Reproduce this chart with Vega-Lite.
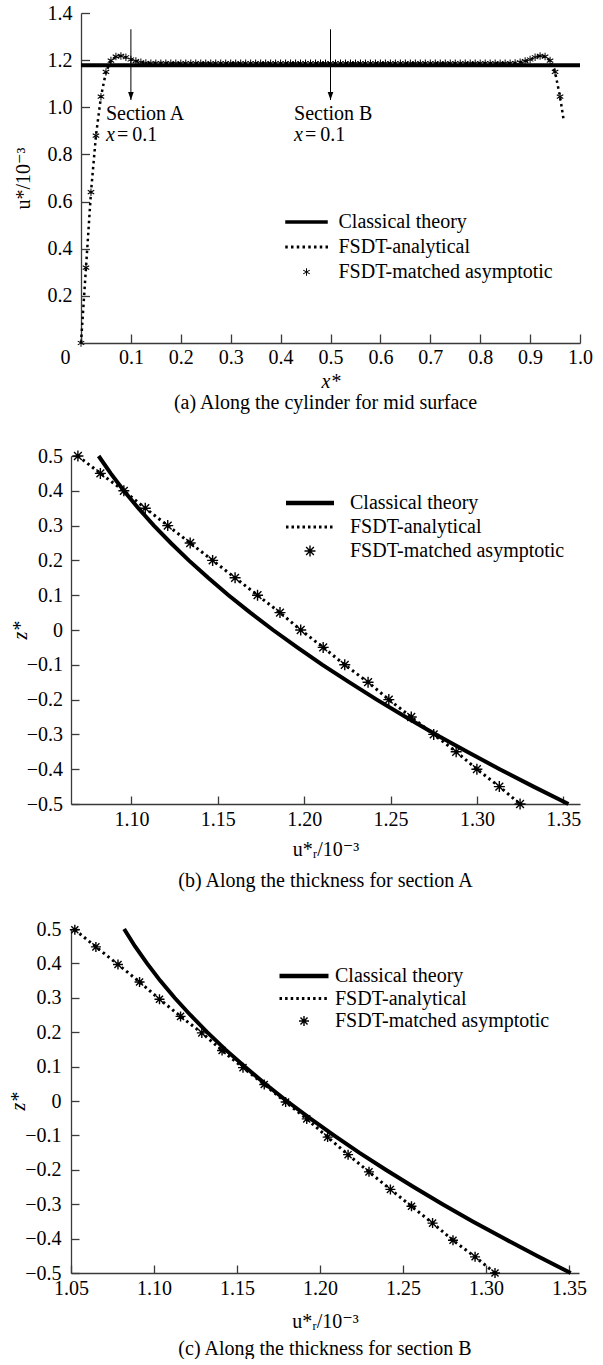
{
"$schema": "https://vega.github.io/schema/vega-lite/v6.json",
"background": "white",
"padding": {"left": 8, "top": 3, "right": 0, "bottom": 0},
"config": {
  "font": "Liberation Serif, Tinos, Times New Roman, DejaVu Serif, serif",
  "view": {"stroke": null},
  "axis": {"grid": false, "labelOverlap": false, "labelFlush": false, "labelFont": "Liberation Serif, Tinos, Times New Roman, DejaVu Serif, serif", "labelFontSize": 20, "labelColor": "black", "titleFont": "Liberation Serif, Tinos, Times New Roman, DejaVu Serif, serif", "titleFontSize": 20, "titleFontWeight": "normal", "titleColor": "black", "domainColor": "#3a3a3a", "domainWidth": 1.3, "tickColor": "#3a3a3a", "tickWidth": 1.3},
  "legend": {"labelFont": "Liberation Serif, Tinos, Times New Roman, DejaVu Serif, serif"},
  "title": {"font": "Liberation Serif, Tinos, Times New Roman, DejaVu Serif, serif", "fontSize": 20, "fontWeight": "normal", "color": "black", "orient": "bottom", "anchor": "middle"},
  "text": {"font": "Liberation Serif, Tinos, Times New Roman, DejaVu Serif, serif", "fontSize": 20, "color": "black"}
},
"datasets": {
  "a_classical": [{"x": 0, "u": 1.178}, {"x": 1, "u": 1.178}],
  "a_analytical": [
    {"x":0,"u":0},{"x":0.01,"u":0.32},{"x":0.02,"u":0.64},{"x":0.03,"u":0.88},{"x":0.04,"u":1.045},{"x":0.05,"u":1.15},{"x":0.06,"u":1.198},{"x":0.07,"u":1.215},{"x":0.08,"u":1.218},{"x":0.09,"u":1.212},{"x":0.1,"u":1.203},{"x":0.11,"u":1.196},{"x":0.12,"u":1.191},{"x":0.13,"u":1.188},{"x":0.2,"u":1.187},{"x":0.5,"u":1.187},{"x":0.8,"u":1.187},{"x":0.86,"u":1.187},{"x":0.87,"u":1.188},{"x":0.88,"u":1.191},{"x":0.89,"u":1.196},{"x":0.9,"u":1.203},{"x":0.91,"u":1.212},{"x":0.92,"u":1.218},{"x":0.93,"u":1.215},{"x":0.94,"u":1.198},{"x":0.95,"u":1.15},{"x":0.96,"u":1.045},{"x":0.967,"u":0.95}
  ],
  "a_matched": [
    {"x":0,"u":0,"series":"FSDT-matched asymptotic"},{"x":0.01,"u":0.32,"series":"FSDT-matched asymptotic"},{"x":0.02,"u":0.64,"series":"FSDT-matched asymptotic"},{"x":0.03,"u":0.88,"series":"FSDT-matched asymptotic"},{"x":0.04,"u":1.045,"series":"FSDT-matched asymptotic"},{"x":0.05,"u":1.15,"series":"FSDT-matched asymptotic"},{"x":0.06,"u":1.198,"series":"FSDT-matched asymptotic"},{"x":0.07,"u":1.215,"series":"FSDT-matched asymptotic"},{"x":0.08,"u":1.218,"series":"FSDT-matched asymptotic"},{"x":0.09,"u":1.212,"series":"FSDT-matched asymptotic"},{"x":0.1,"u":1.203,"series":"FSDT-matched asymptotic"},{"x":0.11,"u":1.196,"series":"FSDT-matched asymptotic"},{"x":0.12,"u":1.191,"series":"FSDT-matched asymptotic"},{"x":0.13,"u":1.188,"series":"FSDT-matched asymptotic"},
    {"x":0.14,"u":1.187,"series":"FSDT-matched asymptotic"},{"x":0.15,"u":1.187,"series":"FSDT-matched asymptotic"},{"x":0.16,"u":1.187,"series":"FSDT-matched asymptotic"},{"x":0.17,"u":1.187,"series":"FSDT-matched asymptotic"},{"x":0.18,"u":1.187,"series":"FSDT-matched asymptotic"},{"x":0.19,"u":1.187,"series":"FSDT-matched asymptotic"},{"x":0.2,"u":1.187,"series":"FSDT-matched asymptotic"},{"x":0.21,"u":1.187,"series":"FSDT-matched asymptotic"},{"x":0.22,"u":1.187,"series":"FSDT-matched asymptotic"},{"x":0.23,"u":1.187,"series":"FSDT-matched asymptotic"},{"x":0.24,"u":1.187,"series":"FSDT-matched asymptotic"},{"x":0.25,"u":1.187,"series":"FSDT-matched asymptotic"},{"x":0.26,"u":1.187,"series":"FSDT-matched asymptotic"},{"x":0.27,"u":1.187,"series":"FSDT-matched asymptotic"},{"x":0.28,"u":1.187,"series":"FSDT-matched asymptotic"},{"x":0.29,"u":1.187,"series":"FSDT-matched asymptotic"},{"x":0.3,"u":1.187,"series":"FSDT-matched asymptotic"},{"x":0.31,"u":1.187,"series":"FSDT-matched asymptotic"},{"x":0.32,"u":1.187,"series":"FSDT-matched asymptotic"},{"x":0.33,"u":1.187,"series":"FSDT-matched asymptotic"},{"x":0.34,"u":1.187,"series":"FSDT-matched asymptotic"},{"x":0.35,"u":1.187,"series":"FSDT-matched asymptotic"},{"x":0.36,"u":1.187,"series":"FSDT-matched asymptotic"},{"x":0.37,"u":1.187,"series":"FSDT-matched asymptotic"},{"x":0.38,"u":1.187,"series":"FSDT-matched asymptotic"},{"x":0.39,"u":1.187,"series":"FSDT-matched asymptotic"},{"x":0.4,"u":1.187,"series":"FSDT-matched asymptotic"},{"x":0.41,"u":1.187,"series":"FSDT-matched asymptotic"},{"x":0.42,"u":1.187,"series":"FSDT-matched asymptotic"},{"x":0.43,"u":1.187,"series":"FSDT-matched asymptotic"},{"x":0.44,"u":1.187,"series":"FSDT-matched asymptotic"},{"x":0.45,"u":1.187,"series":"FSDT-matched asymptotic"},{"x":0.46,"u":1.187,"series":"FSDT-matched asymptotic"},{"x":0.47,"u":1.187,"series":"FSDT-matched asymptotic"},{"x":0.48,"u":1.187,"series":"FSDT-matched asymptotic"},{"x":0.49,"u":1.187,"series":"FSDT-matched asymptotic"},{"x":0.5,"u":1.187,"series":"FSDT-matched asymptotic"},{"x":0.51,"u":1.187,"series":"FSDT-matched asymptotic"},{"x":0.52,"u":1.187,"series":"FSDT-matched asymptotic"},{"x":0.53,"u":1.187,"series":"FSDT-matched asymptotic"},{"x":0.54,"u":1.187,"series":"FSDT-matched asymptotic"},{"x":0.55,"u":1.187,"series":"FSDT-matched asymptotic"},{"x":0.56,"u":1.187,"series":"FSDT-matched asymptotic"},{"x":0.57,"u":1.187,"series":"FSDT-matched asymptotic"},{"x":0.58,"u":1.187,"series":"FSDT-matched asymptotic"},{"x":0.59,"u":1.187,"series":"FSDT-matched asymptotic"},{"x":0.6,"u":1.187,"series":"FSDT-matched asymptotic"},{"x":0.61,"u":1.187,"series":"FSDT-matched asymptotic"},{"x":0.62,"u":1.187,"series":"FSDT-matched asymptotic"},{"x":0.63,"u":1.187,"series":"FSDT-matched asymptotic"},{"x":0.64,"u":1.187,"series":"FSDT-matched asymptotic"},{"x":0.65,"u":1.187,"series":"FSDT-matched asymptotic"},{"x":0.66,"u":1.187,"series":"FSDT-matched asymptotic"},{"x":0.67,"u":1.187,"series":"FSDT-matched asymptotic"},{"x":0.68,"u":1.187,"series":"FSDT-matched asymptotic"},{"x":0.69,"u":1.187,"series":"FSDT-matched asymptotic"},{"x":0.7,"u":1.187,"series":"FSDT-matched asymptotic"},{"x":0.71,"u":1.187,"series":"FSDT-matched asymptotic"},{"x":0.72,"u":1.187,"series":"FSDT-matched asymptotic"},{"x":0.73,"u":1.187,"series":"FSDT-matched asymptotic"},{"x":0.74,"u":1.187,"series":"FSDT-matched asymptotic"},{"x":0.75,"u":1.187,"series":"FSDT-matched asymptotic"},{"x":0.76,"u":1.187,"series":"FSDT-matched asymptotic"},{"x":0.77,"u":1.187,"series":"FSDT-matched asymptotic"},{"x":0.78,"u":1.187,"series":"FSDT-matched asymptotic"},{"x":0.79,"u":1.187,"series":"FSDT-matched asymptotic"},{"x":0.8,"u":1.187,"series":"FSDT-matched asymptotic"},{"x":0.81,"u":1.187,"series":"FSDT-matched asymptotic"},{"x":0.82,"u":1.187,"series":"FSDT-matched asymptotic"},{"x":0.83,"u":1.187,"series":"FSDT-matched asymptotic"},{"x":0.84,"u":1.187,"series":"FSDT-matched asymptotic"},{"x":0.85,"u":1.187,"series":"FSDT-matched asymptotic"},{"x":0.86,"u":1.187,"series":"FSDT-matched asymptotic"},
    {"x":0.87,"u":1.188,"series":"FSDT-matched asymptotic"},{"x":0.88,"u":1.191,"series":"FSDT-matched asymptotic"},{"x":0.89,"u":1.196,"series":"FSDT-matched asymptotic"},{"x":0.9,"u":1.203,"series":"FSDT-matched asymptotic"},{"x":0.91,"u":1.212,"series":"FSDT-matched asymptotic"},{"x":0.92,"u":1.218,"series":"FSDT-matched asymptotic"},{"x":0.93,"u":1.215,"series":"FSDT-matched asymptotic"},{"x":0.94,"u":1.198,"series":"FSDT-matched asymptotic"},{"x":0.95,"u":1.15,"series":"FSDT-matched asymptotic"},{"x":0.96,"u":1.045,"series":"FSDT-matched asymptotic"}
  ],
  "a_arrows": [{"x": 0.1, "top": 1.331, "tip": 1.031}, {"x": 0.5, "top": 1.331, "tip": 1.031}],
  "a_labels": [{"x": 0.05, "y": 0.9716, "label": "Section A"}, {"x": 0.427, "y": 0.9716, "label": "Section B"}],
  "a_xeq": [{"x": 0.05, "y": 0.8825}, {"x": 0.427, "y": 0.8825}],
  "b_classical": [
    {"z":0.5,"u":1.081},{"z":0.45,"u":1.088},{"z":0.4,"u":1.0956},{"z":0.35,"u":1.104},{"z":0.3,"u":1.113},{"z":0.25,"u":1.1228},{"z":0.2,"u":1.1332},{"z":0.15,"u":1.1444},{"z":0.1,"u":1.1562},{"z":0.05,"u":1.1688},{"z":0,"u":1.182},{"z":-0.05,"u":1.196},{"z":-0.1,"u":1.2106},{"z":-0.15,"u":1.226},{"z":-0.2,"u":1.242},{"z":-0.25,"u":1.2588},{"z":-0.3,"u":1.2762},{"z":-0.35,"u":1.2944},{"z":-0.4,"u":1.3132},{"z":-0.45,"u":1.3328},{"z":-0.5,"u":1.353}
  ],
  "b_analytical": [
    {"z":0.5,"u":1.069},{"z":0.45,"u":1.082},{"z":0.4,"u":1.0956},{"z":0.35,"u":1.108},{"z":0.3,"u":1.121},{"z":0.25,"u":1.134},{"z":0.2,"u":1.147},{"z":0.15,"u":1.16},{"z":0.1,"u":1.173},{"z":0.05,"u":1.186},{"z":0,"u":1.198},{"z":-0.05,"u":1.211},{"z":-0.1,"u":1.2235},{"z":-0.15,"u":1.237},{"z":-0.2,"u":1.249},{"z":-0.25,"u":1.262},{"z":-0.3,"u":1.275},{"z":-0.35,"u":1.288},{"z":-0.4,"u":1.3},{"z":-0.45,"u":1.313},{"z":-0.5,"u":1.325}
  ],
  "b_matched": [
    {"z":0.5,"u":1.069,"series":"FSDT-matched asymptotic"},{"z":0.45,"u":1.082,"series":"FSDT-matched asymptotic"},{"z":0.4,"u":1.0956,"series":"FSDT-matched asymptotic"},{"z":0.35,"u":1.108,"series":"FSDT-matched asymptotic"},{"z":0.3,"u":1.121,"series":"FSDT-matched asymptotic"},{"z":0.25,"u":1.134,"series":"FSDT-matched asymptotic"},{"z":0.2,"u":1.147,"series":"FSDT-matched asymptotic"},{"z":0.15,"u":1.16,"series":"FSDT-matched asymptotic"},{"z":0.1,"u":1.173,"series":"FSDT-matched asymptotic"},{"z":0.05,"u":1.186,"series":"FSDT-matched asymptotic"},{"z":0,"u":1.198,"series":"FSDT-matched asymptotic"},{"z":-0.05,"u":1.211,"series":"FSDT-matched asymptotic"},{"z":-0.1,"u":1.2235,"series":"FSDT-matched asymptotic"},{"z":-0.15,"u":1.237,"series":"FSDT-matched asymptotic"},{"z":-0.2,"u":1.249,"series":"FSDT-matched asymptotic"},{"z":-0.25,"u":1.262,"series":"FSDT-matched asymptotic"},{"z":-0.3,"u":1.275,"series":"FSDT-matched asymptotic"},{"z":-0.35,"u":1.288,"series":"FSDT-matched asymptotic"},{"z":-0.4,"u":1.3,"series":"FSDT-matched asymptotic"},{"z":-0.45,"u":1.313,"series":"FSDT-matched asymptotic"},{"z":-0.5,"u":1.325,"series":"FSDT-matched asymptotic"}
  ],
  "c_classical": [
    {"z":0.5,"u":1.082},{"z":0.45,"u":1.0885},{"z":0.4,"u":1.0958},{"z":0.35,"u":1.1037},{"z":0.3,"u":1.1124},{"z":0.25,"u":1.1219},{"z":0.2,"u":1.132},{"z":0.15,"u":1.1429},{"z":0.1,"u":1.1546},{"z":0.05,"u":1.1669},{"z":0,"u":1.18},{"z":-0.05,"u":1.1938},{"z":-0.1,"u":1.2084},{"z":-0.15,"u":1.2236},{"z":-0.2,"u":1.2396},{"z":-0.25,"u":1.2564},{"z":-0.3,"u":1.2738},{"z":-0.35,"u":1.292},{"z":-0.4,"u":1.311},{"z":-0.45,"u":1.3306},{"z":-0.5,"u":1.351}
  ],
  "c_analytical": [
    {"z":0.498,"u":1.0523},{"z":0.448,"u":1.065},{"z":0.397,"u":1.0783},{"z":0.346,"u":1.0913},{"z":0.296,"u":1.1033},{"z":0.246,"u":1.116},{"z":0.198,"u":1.1288},{"z":0.147,"u":1.141},{"z":0.097,"u":1.1536},{"z":0.048,"u":1.1664},{"z":-0.003,"u":1.1793},{"z":-0.052,"u":1.192},{"z":-0.105,"u":1.2046},{"z":-0.156,"u":1.2169},{"z":-0.206,"u":1.2295},{"z":-0.257,"u":1.2424},{"z":-0.306,"u":1.2551},{"z":-0.355,"u":1.2678},{"z":-0.405,"u":1.2801},{"z":-0.453,"u":1.2934},{"z":-0.5,"u":1.3054}
  ],
  "c_matched": [
    {"z":0.498,"u":1.0523,"series":"FSDT-matched asymptotic"},{"z":0.448,"u":1.065,"series":"FSDT-matched asymptotic"},{"z":0.397,"u":1.0783,"series":"FSDT-matched asymptotic"},{"z":0.346,"u":1.0913,"series":"FSDT-matched asymptotic"},{"z":0.296,"u":1.1033,"series":"FSDT-matched asymptotic"},{"z":0.246,"u":1.116,"series":"FSDT-matched asymptotic"},{"z":0.198,"u":1.1288,"series":"FSDT-matched asymptotic"},{"z":0.147,"u":1.141,"series":"FSDT-matched asymptotic"},{"z":0.097,"u":1.1536,"series":"FSDT-matched asymptotic"},{"z":0.048,"u":1.1664,"series":"FSDT-matched asymptotic"},{"z":-0.003,"u":1.1793,"series":"FSDT-matched asymptotic"},{"z":-0.052,"u":1.192,"series":"FSDT-matched asymptotic"},{"z":-0.105,"u":1.2046,"series":"FSDT-matched asymptotic"},{"z":-0.156,"u":1.2169,"series":"FSDT-matched asymptotic"},{"z":-0.206,"u":1.2295,"series":"FSDT-matched asymptotic"},{"z":-0.257,"u":1.2424,"series":"FSDT-matched asymptotic"},{"z":-0.306,"u":1.2551,"series":"FSDT-matched asymptotic"},{"z":-0.355,"u":1.2678,"series":"FSDT-matched asymptotic"},{"z":-0.405,"u":1.2801,"series":"FSDT-matched asymptotic"},{"z":-0.453,"u":1.2934,"series":"FSDT-matched asymptotic"},{"z":-0.5,"u":1.3054,"series":"FSDT-matched asymptotic"}
  ]
},
"resolve": {"scale": {"shape": "independent"}, "legend": {"shape": "independent"}},
"bounds": "flush",
"spacing": 113,
"vconcat": [
  {
    "width": 509, "height": 330,
    "title": {"text": "(a) Along the cylinder for mid surface", "offset": 2},
    "layer": [
      {"data": {"name": "a_classical"}, "mark": {"type": "line", "color": "black", "strokeWidth": 4},
       "encoding": {
         "x": {"field": "x", "type": "quantitative", "scale": {"domain": [0, 1], "range": [10, 509], "nice": false, "zero": false},
               "axis": {"values": [0,0.1,0.2,0.3,0.4,0.5,0.6,0.7,0.8,0.9,1.0], "tickCount": 30, "labelOverlap": false, "labelFlush": false, "labelExpr": "datum.value == 0 ? '0' : format(datum.value, '.1f')", "labelOffset": {"condition": {"test": "datum.value == 0", "value": -16}, "value": 0}, "tickSize": -9, "labelPadding": 13, "title": "x*", "titleFontStyle": "italic", "titlePadding": 4}},
         "y": {"field": "u", "type": "quantitative", "scale": {"domain": [0, 1.4], "nice": false, "zero": false},
               "axis": {"values": [0.2,0.4,0.6,0.8,1.0,1.2,1.4], "tickCount": 30, "labelOverlap": false, "format": ".1f", "offset": -10, "tickSize": -8.5, "labelPadding": 17.5, "title": "u*/10\u207b\u00b3", "titlePadding": 14}}
       }},
      {"data": {"name": "a_analytical"}, "mark": {"type": "line", "color": "black", "strokeWidth": 2.5, "strokeDash": [2.5, 3.5]},
       "encoding": {"x": {"field": "x", "type": "quantitative"}, "y": {"field": "u", "type": "quantitative"}}},
      {"data": {"name": "a_matched"}, "mark": {"type": "point", "filled": true, "color": "black", "strokeWidth": 0, "opacity": 1, "size": 100},
       "encoding": {
         "x": {"field": "x", "type": "quantitative"}, "y": {"field": "u", "type": "quantitative"},
         "shape": {"field": "series", "type": "nominal",
           "scale": {"domain": ["Classical theory", "FSDT-analytical", "FSDT-matched asymptotic"],
                     "range": ["M-4.25,-0.35H4.25V0.35H-4.25Z", "M-4.25,-0.3h0.5v0.6h-0.5ZM-3.1,-0.3h0.5v0.6h-0.5ZM-1.95,-0.3h0.5v0.6h-0.5ZM-0.8,-0.3h0.5v0.6h-0.5ZM0.35,-0.3h0.5v0.6h-0.5ZM1.5,-0.3h0.5v0.6h-0.5ZM2.65,-0.3h0.5v0.6h-0.5ZM3.8,-0.3h0.5v0.6h-0.5Z", "M-0.1,-0.75H0.1V0.75H-0.1ZM0.6,0.462L-0.7,-0.288L-0.6,-0.462L0.7,0.288ZM-0.7,0.288L0.6,-0.462L0.7,-0.288L-0.6,0.462Z"]},
           "legend": {"orient": "none", "legendX": 225.5, "legendY": 199, "title": null, "padding": 0, "labelFontSize": 20, "labelColor": "black", "labelLimit": 400, "labelOffset": 22, "rowPadding": 5, "symbolSize": 100, "symbolStrokeWidth": 0, "symbolFillColor": "black", "symbolOpacity": 1}}
       }},
      {"data": {"name": "a_arrows"}, "mark": {"type": "rule", "color": "black", "strokeWidth": 1},
       "encoding": {"x": {"field": "x", "type": "quantitative"}, "y": {"field": "top", "type": "quantitative"}, "y2": {"field": "tip"}}},
      {"data": {"name": "a_arrows"}, "mark": {"type": "point", "shape": "M-0.35,-1L0,0L0.35,-1Z", "filled": true, "color": "black", "size": 256, "opacity": 1},
       "encoding": {"x": {"field": "x", "type": "quantitative"}, "y": {"field": "tip", "type": "quantitative"}}},
      {"data": {"name": "a_labels"}, "mark": {"type": "text", "align": "left", "baseline": "middle", "fontSize": 20},
       "encoding": {"x": {"field": "x", "type": "quantitative"}, "y": {"field": "y", "type": "quantitative"}, "text": {"field": "label"}}},
      {"data": {"name": "a_xeq"}, "mark": {"type": "text", "text": "x", "fontStyle": "italic", "align": "left", "baseline": "middle", "fontSize": 20},
       "encoding": {"x": {"field": "x", "type": "quantitative"}, "y": {"field": "y", "type": "quantitative"}}},
      {"data": {"name": "a_xeq"}, "mark": {"type": "text", "text": "=\u20090.1", "dx": 11, "align": "left", "baseline": "middle", "fontSize": 20},
       "encoding": {"x": {"field": "x", "type": "quantitative"}, "y": {"field": "y", "type": "quantitative"}}}
    ]
  },
  {
    "width": 509, "height": 348,
    "title": {"text": "(b) Along the thickness for section A", "offset": 12},
    "layer": [
      {"data": {"name": "b_classical"}, "mark": {"type": "line", "color": "black", "strokeWidth": 4},
       "encoding": {
         "x": {"field": "u", "type": "quantitative", "scale": {"domain": [1.065, 1.3597], "nice": false, "zero": false},
               "axis": {"values": [1.1,1.15,1.2,1.25,1.3,1.35], "tickCount": 30, "labelOverlap": false, "labelFlush": false, "format": ".2f", "tickSize": -8, "labelPadding": 13, "title": "u*\u1d63/10\u207b\u00b3", "titlePadding": 10}},
         "y": {"field": "z", "type": "quantitative", "scale": {"domain": [-0.5, 0.5], "nice": false, "zero": false},
               "axis": {"values": [-0.5,-0.4,-0.3,-0.2,-0.1,0,0.1,0.2,0.3,0.4,0.5], "tickCount": 30, "labelOverlap": false, "labelFlush": false, "labelExpr": "datum.value == 0 ? '0' : format(datum.value, '.1f')", "tickSize": -8, "labelPadding": 16.5, "title": "z*", "titleFontStyle": "italic", "titlePadding": -4}}
       }},
      {"data": {"name": "b_analytical"}, "mark": {"type": "line", "color": "black", "strokeWidth": 3, "strokeDash": [2.5, 3.5]},
       "encoding": {"x": {"field": "u", "type": "quantitative"}, "y": {"field": "z", "type": "quantitative"}}},
      {"data": {"name": "b_matched"}, "mark": {"type": "point", "filled": true, "color": "black", "strokeWidth": 0, "opacity": 1, "size": 100},
       "encoding": {
         "x": {"field": "u", "type": "quantitative"}, "y": {"field": "z", "type": "quantitative"},
         "shape": {"field": "series", "type": "nominal",
           "scale": {"domain": ["Classical theory", "FSDT-analytical", "FSDT-matched asymptotic"],
                     "range": ["M-4.8,-0.45H4.8V0.45H-4.8Z", "M-4.8,-0.3h0.5v0.6h-0.5ZM-3.7,-0.3h0.5v0.6h-0.5ZM-2.6,-0.3h0.5v0.6h-0.5ZM-1.5,-0.3h0.5v0.6h-0.5ZM-0.4,-0.3h0.5v0.6h-0.5ZM0.7,-0.3h0.5v0.6h-0.5ZM1.8,-0.3h0.5v0.6h-0.5ZM2.9,-0.3h0.5v0.6h-0.5ZM4.0,-0.3h0.5v0.6h-0.5Z", "M-0.14,-1.1H0.14V1.1H-0.14ZM-1.1,0.14L-1.1,-0.14L1.1,-0.14L1.1,0.14ZM0.679,0.877L-0.877,-0.679L-0.679,-0.877L0.877,0.679ZM-0.877,0.679L0.679,-0.877L0.877,-0.679L-0.679,0.877Z"]},
           "legend": {"orient": "none", "legendX": 229, "legendY": 37, "title": null, "padding": 0, "labelFontSize": 20, "labelColor": "black", "labelLimit": 400, "labelOffset": 30, "rowPadding": 4, "symbolSize": 100, "symbolStrokeWidth": 0, "symbolFillColor": "black", "symbolOpacity": 1}}
       }}
    ]
  },
  {
    "width": 508, "height": 356,
    "title": {"text": "(c) Along the thickness for section B", "offset": 8},
    "layer": [
      {"data": {"name": "c_classical"}, "mark": {"type": "line", "color": "black", "strokeWidth": 4},
       "encoding": {
         "x": {"field": "u", "type": "quantitative", "scale": {"domain": [1.05, 1.356], "nice": false, "zero": false},
               "axis": {"values": [1.05,1.1,1.15,1.2,1.25,1.3,1.35], "tickCount": 30, "labelOverlap": false, "labelFlush": false, "format": ".2f", "tickSize": -8, "labelPadding": 13, "title": "u*\u1d63/10\u207b\u00b3", "titlePadding": 13}},
         "y": {"field": "z", "type": "quantitative", "scale": {"domain": [-0.5, 0.5], "range": [356, 12], "nice": false, "zero": false},
               "axis": {"values": [-0.5,-0.4,-0.3,-0.2,-0.1,0,0.1,0.2,0.3,0.4,0.5], "tickCount": 30, "labelOverlap": false, "labelFlush": false, "labelExpr": "datum.value == 0 ? '0' : format(datum.value, '.1f')", "tickSize": -8, "labelPadding": 18, "title": "z*", "titleFontStyle": "italic", "titlePadding": -4}}
       }},
      {"data": {"name": "c_analytical"}, "mark": {"type": "line", "color": "black", "strokeWidth": 3, "strokeDash": [2.5, 3.5]},
       "encoding": {"x": {"field": "u", "type": "quantitative"}, "y": {"field": "z", "type": "quantitative"}}},
      {"data": {"name": "c_matched"}, "mark": {"type": "point", "filled": true, "color": "black", "strokeWidth": 0, "opacity": 1, "size": 100},
       "encoding": {
         "x": {"field": "u", "type": "quantitative"}, "y": {"field": "z", "type": "quantitative"},
         "shape": {"field": "series", "type": "nominal",
           "scale": {"domain": ["Classical theory", "FSDT-analytical", "FSDT-matched asymptotic"],
                     "range": ["M-4.9,-0.45H4.9V0.45H-4.9Z", "M-4.9,-0.3h0.5v0.6h-0.5ZM-3.78,-0.3h0.5v0.6h-0.5ZM-2.66,-0.3h0.5v0.6h-0.5ZM-1.54,-0.3h0.5v0.6h-0.5ZM-0.42,-0.3h0.5v0.6h-0.5ZM0.7,-0.3h0.5v0.6h-0.5ZM1.82,-0.3h0.5v0.6h-0.5ZM2.94,-0.3h0.5v0.6h-0.5ZM4.06,-0.3h0.5v0.6h-0.5Z", "M-0.14,-1H0.14V1H-0.14ZM-1,0.14L-1,-0.14L1,-0.14L1,0.14ZM0.608,0.806L-0.806,-0.608L-0.608,-0.806L0.806,0.608ZM-0.806,0.608L0.608,-0.806L0.806,-0.608L-0.608,0.806Z"]},
           "legend": {"orient": "none", "legendX": 223, "legendY": 49, "title": null, "padding": 0, "labelFontSize": 20, "labelColor": "black", "labelLimit": 400, "labelOffset": 21, "rowPadding": 2.5, "symbolSize": 100, "symbolStrokeWidth": 0, "symbolFillColor": "black", "symbolOpacity": 1}}
       }}
    ]
  }
]
}
